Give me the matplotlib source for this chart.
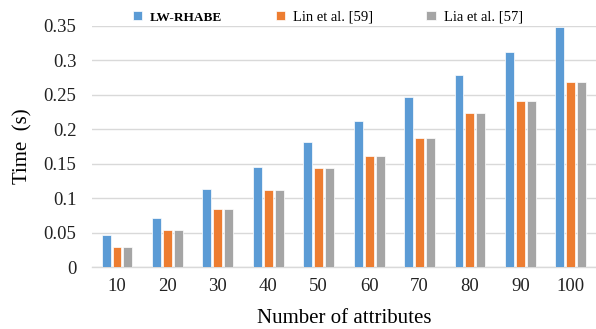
import numpy as np
import matplotlib.pyplot as plt

# data
attrs = ['10', '20', '30', '40', '50', '60', '70', '80', '90', '100']
lw_rhabe = [0.047, 0.071, 0.113, 0.145, 0.182, 0.212, 0.247, 0.279, 0.312, 0.348]
lin59 = [0.029, 0.054, 0.084, 0.112, 0.144, 0.161, 0.187, 0.224, 0.241, 0.268]
lia57 = [0.029, 0.054, 0.084, 0.112, 0.144, 0.161, 0.187, 0.224, 0.241, 0.268]
names = ['LW-RHABE', 'Lin et al. [59]', 'Lia et al. [57]']
yticks = [0, 0.05, 0.1, 0.15, 0.2, 0.25, 0.3, 0.35]
ytick_labels = ['0', '0.05', '0.1', '0.15', '0.2', '0.25', '0.3', '0.35']

plt.rcParams['font.family'] = ['Liberation Serif', 'DejaVu Serif']

fig = plt.figure(figsize=(5.96, 3.29), dpi=100)
ax = fig.add_axes([0.154, 0.188, 0.846, 0.733])

x = np.arange(len(attrs))
w = 0.178
step = 0.217
colors = ['#5B9BD5', '#ED7D31', '#A5A5A5']
for i, (vals, c, n) in enumerate(zip([lw_rhabe, lin59, lia57], colors, names)):
    ax.bar(x + (i - 1) * step, vals, width=w, color=c, label=n, zorder=3,
           edgecolor='white', linewidth=0.5)

ax.set_xlim(-0.5, len(attrs) - 0.5)
ax.set_ylim(0, 0.35)
ax.set_yticks(yticks)
ax.set_yticklabels(ytick_labels)
ax.set_xticks(x)
ax.set_xticklabels(attrs)
ax.tick_params(axis='both', length=0, labelsize=13.5, colors='#222222')
ax.tick_params(axis='x', pad=8)
ax.tick_params(axis='y', pad=11)
ax.yaxis.grid(True, color='#D9D9D9', linewidth=1, zorder=0)
for s in ['top', 'right', 'left']:
    ax.spines[s].set_visible(False)
ax.spines['bottom'].set_color('#D9D9D9')
ax.spines['bottom'].set_linewidth(1)

ax.set_xlabel('Number of attributes', fontsize=15, labelpad=10)
ax.set_ylabel('Time  (s)', fontsize=15, labelpad=8)

leg = ax.legend(ncol=3, loc='lower center', bbox_to_anchor=(0.468, 0.985),
                frameon=False, fontsize=10.5, handlelength=0.64, handleheight=0.64,
                columnspacing=3.65, handletextpad=0.55, borderaxespad=0)
leg.get_texts()[0].set_fontweight('bold')
leg.get_texts()[0].set_fontsize(9.5)

fig.savefig('out.png', dpi=100)
